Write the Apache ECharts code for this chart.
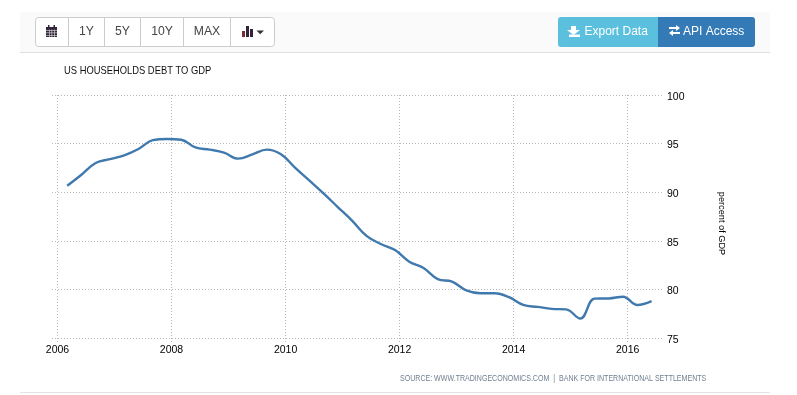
<!DOCTYPE html>
<html>
<head>
<meta charset="utf-8">
<style>html,body{margin:0;padding:0;background:#fff}#c{width:797px;height:395px}</style>
<script src="https://cdn.jsdelivr.net/npm/echarts@6/dist/echarts.min.js"></script>
</head>
<body>
<div id="c"></div>
<script>
const quarters = [2006.17,2006.42,2006.67,2006.92,2007.17,2007.42,2007.67,2007.92,2008.17,2008.42,2008.67,2008.92,
  2009.17,2009.42,2009.67,2009.92,2010.17,2010.42,2010.67,2010.92,2011.17,2011.42,2011.67,2011.92,
  2012.17,2012.42,2012.67,2012.92,2013.17,2013.42,2013.67,2013.92,2014.17,2014.42,2014.67,2014.92,
  2015.17,2015.42,2015.67,2015.92,2016.17,2016.42];
const debtToGdp = [90.66,91.8,93.0,93.4,93.8,94.45,95.35,95.48,95.4,94.6,94.38,94.07,
  93.45,93.9,94.38,93.9,92.5,91.2,89.85,88.45,87.05,85.5,84.67,84.05,
  82.85,82.2,81.06,80.8,79.9,79.6,79.6,79.2,78.4,78.2,78.0,77.95,
  77.0,79.05,79.07,79.25,78.4,78.8];
const yearTicks = [2006,2008,2010,2012,2014,2016];
const rangeButtons = ['1Y','5Y','10Y','MAX'];
const titleText = 'US HOUSEHOLDS DEBT TO GDP';
const sourceText = 'SOURCE: WWW.TRADINGECONOMICS.COM  |  BANK FOR INTERNATIONAL SETTLEMENTS';
const unitText = 'percent of GDP';

const FONT = '"Liberation Sans", Arial, sans-serif';
const points = quarters.map((q, i) => [q, debtToGdp[i]]);
const g = [];
// panel
g.push({type:'rect',silent:true,shape:{x:20,y:12,width:750,height:40},style:{fill:'#fafafa'}});
g.push({type:'rect',silent:true,shape:{x:20,y:52,width:750,height:1},style:{fill:'#e0e0e0'}});
g.push({type:'rect',silent:true,shape:{x:20,y:392,width:750,height:1},style:{fill:'#e4e4e4'}});
// left button group
g.push({type:'rect',silent:true,shape:{x:35.5,y:17.5,width:239,height:29,r:3},style:{fill:'#fff',stroke:'#ccc',lineWidth:1}});
[68.5,104.5,140.5,183.5,230.5].forEach(x=>g.push({type:'rect',silent:true,shape:{x:x-0.5,y:18,width:1,height:28},style:{fill:'#ccc'}}));
[[86.5,rangeButtons[0]],[122.5,rangeButtons[1]],[162,rangeButtons[2]],[207,rangeButtons[3]]].forEach(([x,t])=>
  g.push({type:'text',silent:true,style:{x:x,y:32,text:t,fill:'#444',font:'12.2px '+FONT,align:'center',verticalAlign:'middle'}}));
// calendar icon
const ic='#33243c';
g.push({type:'rect',silent:true,shape:{x:46,y:27,width:11,height:10},style:{fill:ic}});
g.push({type:'rect',silent:true,shape:{x:48,y:25,width:1.5,height:2},style:{fill:ic}});
g.push({type:'rect',silent:true,shape:{x:53.5,y:25,width:1.5,height:2},style:{fill:ic}});
[30,32.5,35].forEach(y=>g.push({type:'rect',silent:true,shape:{x:46,y:y,width:11,height:0.7},style:{fill:'#ccc'}}));
[49,51.5,54].forEach(x=>g.push({type:'rect',silent:true,shape:{x:x,y:29.5,width:0.7,height:7.5},style:{fill:'#ccc'}}));
// bars icon
[[242,31,3,6,'#7a2e2e'],[246,26,3,11,'#33243c'],[250,29,3,8,'#33243c']].forEach(([x,y,w,h,f])=>
  g.push({type:'rect',silent:true,shape:{x,y,width:w,height:h},style:{fill:f}}));
g.push({type:'polygon',silent:true,shape:{points:[[256.5,30.5],[264,30.5],[260.2,34.2]]},style:{fill:'#333'}});
// right buttons
g.push({type:'rect',silent:true,shape:{x:558,y:17,width:101,height:30,r:[3,0,0,3]},style:{fill:'#5bc0de'}});
g.push({type:'rect',silent:true,shape:{x:658,y:17,width:97,height:30,r:[0,3,3,0]},style:{fill:'#337ab7'}});
g.push({type:'polygon',silent:true,shape:{points:[[571,26],[576,26],[576,30],[580,30],[573.5,35],[567,30],[571,30]]},style:{fill:'#fff'}});
g.push({type:'rect',silent:true,shape:{x:569,y:34.5,width:11,height:2.5},style:{fill:'#fff'}});
g.push({type:'text',silent:true,style:{x:584.5,y:32,text:'Export Data',fill:'#fff',font:'12px '+FONT,align:'left',verticalAlign:'middle'}});
g.push({type:'polygon',silent:true,shape:{points:[[669,27],[676,27],[676,25],[680,28],[676,31],[676,29],[669,29]]},style:{fill:'#fff'}});
g.push({type:'polygon',silent:true,shape:{points:[[680,32],[673,32],[673,30],[669,33],[673,36],[673,34],[680,34]]},style:{fill:'#fff'}});
g.push({type:'text',silent:true,style:{x:683,y:32,text:'API Access',fill:'#fff',font:'12px '+FONT,align:'left',verticalAlign:'middle'}});
// title & source
g.push({type:'text',silent:true,x:64,y:71,scaleX:0.823,style:{x:0,y:0,text:titleText,fill:'#111',font:'11.4px '+FONT,align:'left',verticalAlign:'middle'}});
g.push({type:'text',silent:true,x:400,y:379,scaleX:0.83,style:{x:0,y:0,text:sourceText,fill:'#6f7f8f',font:'8.5px '+FONT,align:'left',verticalAlign:'middle'}});

const chart = echarts.init(document.getElementById('c'), null, {renderer:'canvas'});
const dotted = {type:[1,2],color:'#b8b8b8',width:1};
chart.setOption({
  animation:false,
  graphic:g,
  grid:{left:52,right:134,top:95,bottom:57},
  xAxis:{type:'value',min:2005.9035,max:2016.62,
    axisLine:{show:false},
    axisTick:{show:true,length:4,lineStyle:dotted,customValues:yearTicks},
    axisLabel:{color:'#000',fontSize:10.5,fontFamily:FONT,margin:7,customValues:yearTicks,
      formatter:v=>String(v)},
    splitLine:{show:true,lineStyle:dotted}},
  yAxis:{type:'value',position:'right',min:75,max:100,interval:5,
    name:unitText,nameLocation:'middle',nameRotate:-90,nameGap:54,
    nameTextStyle:{color:'#000',fontSize:9.2,fontFamily:FONT,padding:[0,0,0,14]},
    axisLine:{show:false},axisTick:{show:false},
    axisLabel:{color:'#000',fontSize:10.5,fontFamily:FONT,margin:4,verticalAlign:'top',lineHeight:4},
    splitLine:{show:true,lineStyle:dotted}},
  series:[{type:'line',data:points,smooth:0.4,showSymbol:false,symbol:'none',
    lineStyle:{color:'#4079ad',width:2.4}}]
});
</script>
</body>
</html>
